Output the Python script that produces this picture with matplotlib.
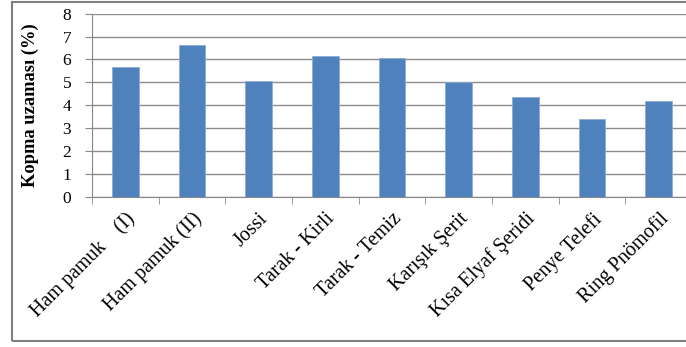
import matplotlib.pyplot as plt
from matplotlib.patches import Rectangle
import numpy as np

plt.rcParams['font.family'] = ['Liberation Serif', 'DejaVu Serif']

categories = ['Ham pamuk    (I)', 'Ham pamuk (II)', 'Jossi', 'Tarak - Kirli',
              'Tarak - Temiz', 'Karışık Şerit', 'Kısa Elyaf Şeridi',
              'Penye Telefi', 'Ring Pnömofil']
elongation = [5.65, 6.64, 5.04, 6.15, 6.07, 5.0, 4.37, 3.38, 4.17]
y_ticks = [0, 1, 2, 3, 4, 5, 6, 7, 8]

fig = plt.figure(figsize=(6.86, 3.47), dpi=100)
ax = fig.add_axes([92 / 686, 1 - 196.7 / 347, 600 / 686, 183 / 347])

x = np.arange(len(categories))
ax.bar(x, elongation, width=0.4, color='#4F81BD', edgecolor='#8EABD6',
       linewidth=0.6, zorder=3)

ax.set_xlim(-0.5, len(categories) - 0.5)
ax.set_ylim(0, 8)
ax.set_yticks(y_ticks)
ax.tick_params(axis='y', labelsize=12.5, length=5, color='#888888', pad=10)
ax.yaxis.grid(True, color='#8c8c8c', linewidth=1.0, zorder=0)

ax.set_xticks(x)
ax.set_xticklabels(categories, rotation=45, ha='right', va='top',
                   rotation_mode='anchor', fontsize=14.5)
ax.tick_params(axis='x', which='major', length=0, pad=9)
ax.set_xticks(np.arange(-0.5, len(categories)), minor=True)
ax.tick_params(axis='x', which='minor', length=5, color='#888888')

for side in ['top', 'right']:
    ax.spines[side].set_visible(False)
for side in ['left', 'bottom']:
    ax.spines[side].set_color('#888888')

ax.set_ylabel('Kopma uzaması (%)', fontsize=13.3, fontweight='bold')
ax.yaxis.set_label_coords(-0.088, 0.5)

# outer chart frame
fig.patches.append(Rectangle((11.5 / 686, 1 - 341 / 347), 1.0, 339 / 347,
                             transform=fig.transFigure, fill=False,
                             edgecolor='#7f7f7f', linewidth=1.5))

fig.savefig('out.png', dpi=100)
